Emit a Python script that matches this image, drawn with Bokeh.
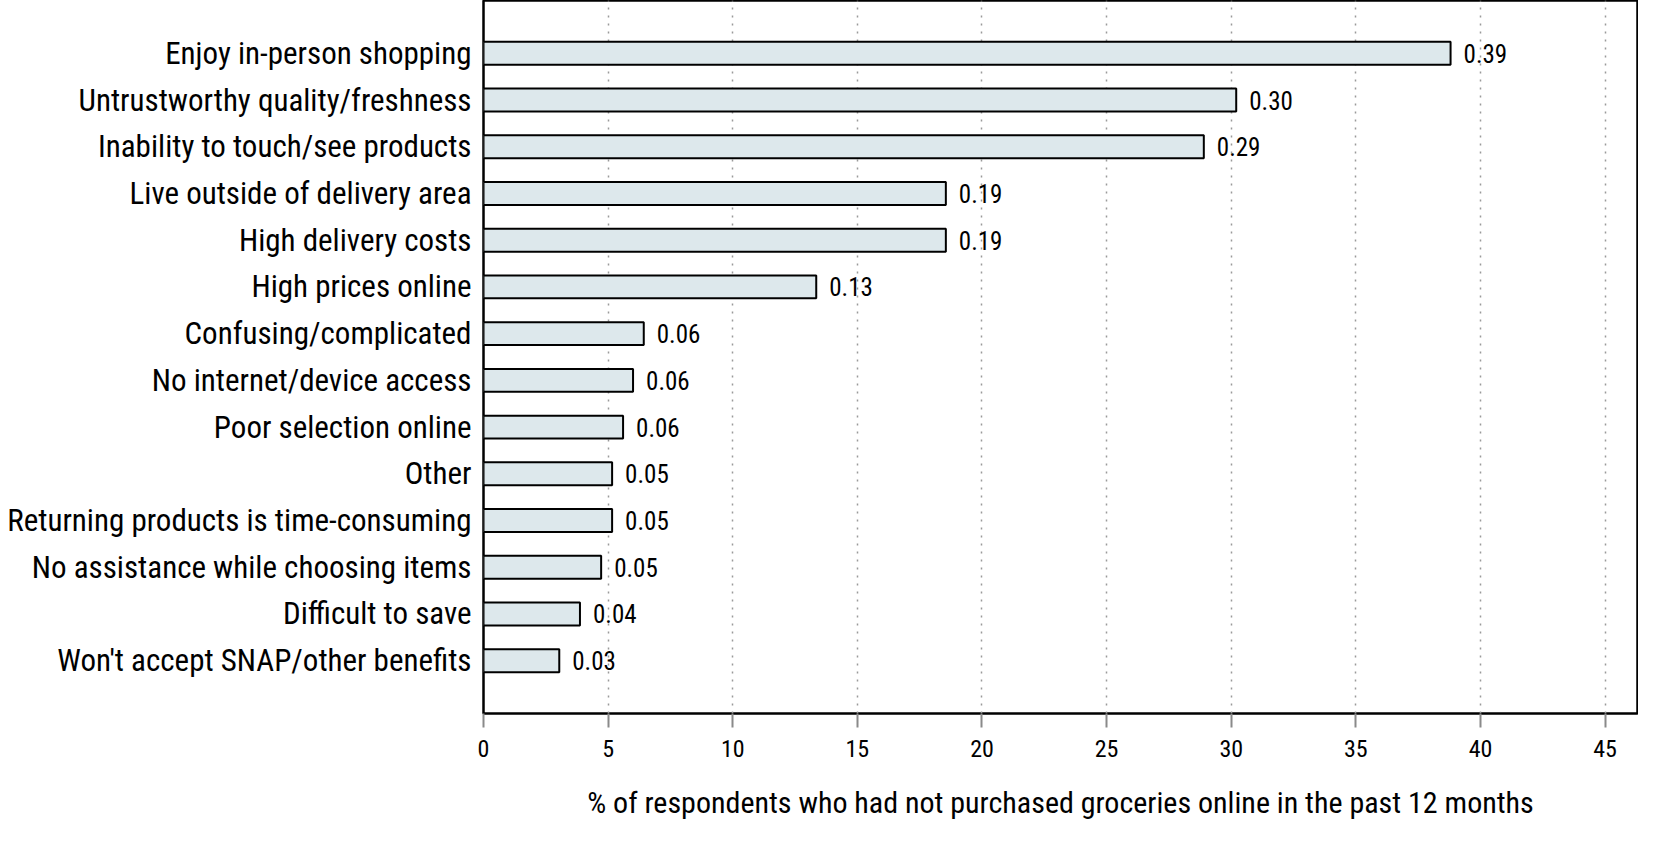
from bokeh.plotting import figure
from bokeh.models import FactorRange, ColumnDataSource, FixedTicker
from bokeh.core.properties import value
from bokeh.embed import file_html
from bokeh.resources import INLINE

categories = [
    "Enjoy in-person shopping",
    "Untrustworthy quality/freshness",
    "Inability to touch/see products",
    "Live outside of delivery area",
    "High delivery costs",
    "High prices online",
    "Confusing/complicated",
    "No internet/device access",
    "Poor selection online",
    "Other",
    "Returning products is time-consuming",
    "No assistance while choosing items",
    "Difficult to save",
    "Won't accept SNAP/other benefits",
]
percents = [38.8, 30.2, 28.9, 18.55, 18.55, 13.35, 6.43, 6.0, 5.6, 5.16, 5.16, 4.72, 3.87, 3.04]
value_labels = ["0.39", "0.30", "0.29", "0.19", "0.19", "0.13", "0.06", "0.06", "0.06",
                "0.05", "0.05", "0.05", "0.04", "0.03"]
x_ticks = [0, 5, 10, 15, 20, 25, 30, 35, 40, 45]
x_label = "% of respondents who had not purchased groceries online in the past 12 months"

FONT = "'Roboto Condensed', 'DejaVu Sans Condensed', 'Liberation Sans'"

src = ColumnDataSource(dict(cat=categories, val=percents, lbl=value_labels))

p = figure(
    width=1638, height=826,
    y_range=FactorRange(factors=list(reversed(categories)), range_padding=0.63,
                        range_padding_units="absolute"),
    x_range=(0, 46.3),
    output_backend="svg", toolbar_location=None,
    min_border_left=483, min_border_right=1, min_border_top=0, min_border_bottom=113,
)

p.hbar(y="cat", right="val", left=0, height=0.49, source=src,
       fill_color="#dde8ec", line_color="black", line_width=2)

p.text(x="val", y="cat", text="lbl", source=src, x_offset=13,
       text_baseline="middle", text_align="left",
       text_font=value(FONT), text_font_size="25px", text_color="black")

p.outline_line_color = "black"
p.outline_line_width = 2.5
p.outline_line_alpha = 1

p.ygrid.grid_line_color = None
p.xgrid.ticker = FixedTicker(ticks=x_ticks)
p.xgrid.grid_line_color = "#9a9a9a"
p.xgrid.grid_line_dash = "2 6"
p.xgrid.grid_line_width = 1.5

p.xaxis.ticker = FixedTicker(ticks=x_ticks)
p.xaxis.axis_line_color = None
p.xaxis.major_tick_line_color = "#8a8a8a"
p.xaxis.major_tick_line_width = 2
p.xaxis.major_tick_out = 14
p.xaxis.major_tick_in = 0
p.xaxis.minor_tick_line_color = None
p.xaxis.major_label_text_font = FONT
p.xaxis.major_label_text_font_size = "24px"
p.xaxis.major_label_text_color = "black"
p.xaxis.major_label_standoff = 12
p.xaxis.axis_label = x_label
p.xaxis.axis_label_text_font = FONT
p.xaxis.axis_label_text_font_size = "30px"
p.xaxis.axis_label_text_font_style = "normal"
p.xaxis.axis_label_text_color = "black"
p.xaxis.axis_label_standoff = 25

p.yaxis.axis_line_color = None
p.yaxis.major_tick_line_color = None
p.yaxis.minor_tick_line_color = None
p.yaxis.major_tick_out = 0
p.yaxis.major_tick_in = 0
p.yaxis.major_label_text_font = FONT
p.yaxis.major_label_text_font_size = "31px"
p.yaxis.major_label_text_color = "black"
p.yaxis.major_label_standoff = 12

p.background_fill_color = "white"
p.border_fill_color = "white"

open("out.html", "w").write(file_html(p, INLINE))
